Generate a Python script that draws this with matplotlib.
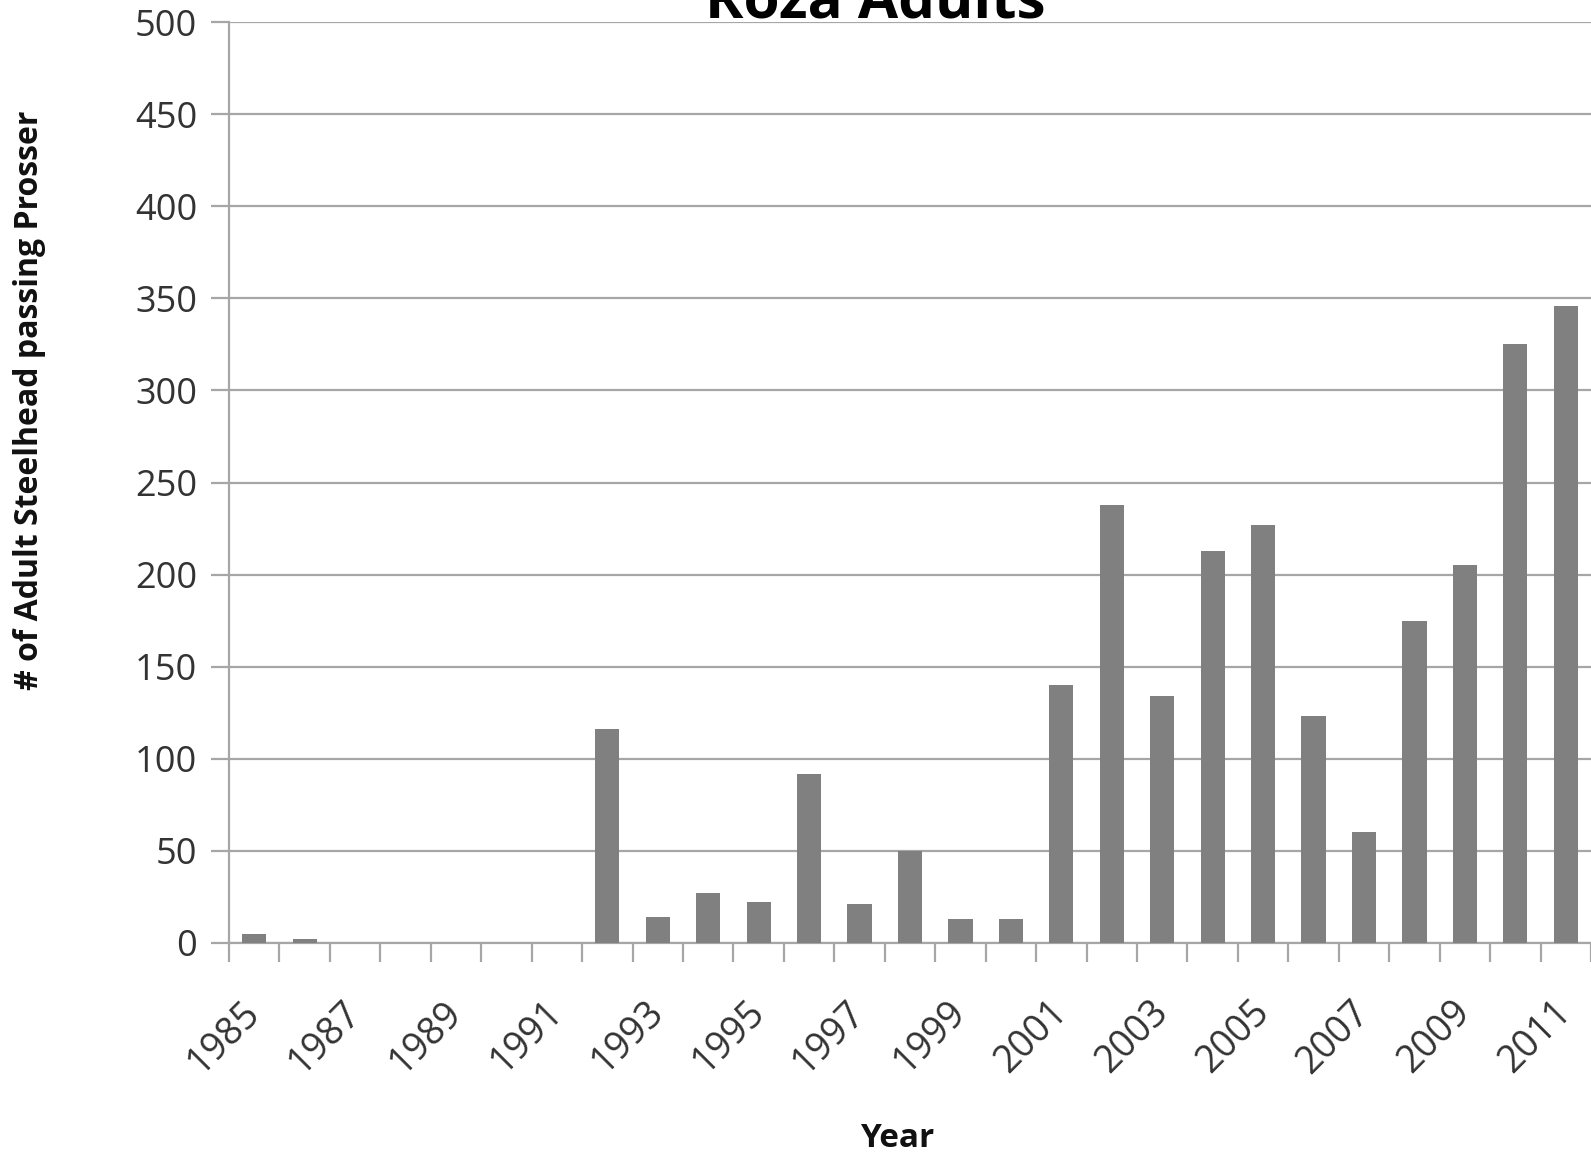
import numpy as np
import matplotlib
matplotlib.use("Agg")
import matplotlib.pyplot as plt
import matplotlib.ticker as tck

plt.rcParams['font.family'] = ['Open Sans', 'DejaVu Sans']

years = list(range(1985, 2012))
adults = [5, 2, 0, 0, 0, 0, 0, 116, 14, 27, 22, 92, 21, 50, 13, 13,
          140, 238, 134, 213, 227, 123, 60, 175, 205, 325, 346]
year_labels = [str(y) if (y - 1985) % 2 == 0 else '' for y in years]

grid_col = '#A6A6A6'
text_col = '#333333'

fig = plt.figure(figsize=(15.91, 11.53), dpi=100)
ax = fig.add_axes([229 / 1591, 1 - 943 / 1153, 1 - 229 / 1591, (943 - 22) / 1153])

x = np.arange(len(years))
ax.bar(x, adults, width=0.48, color='#808080', zorder=3)

ax.set_xlim(-0.5, len(years) - 0.5)
ax.set_ylim(0, 500)
ax.yaxis.set_major_locator(tck.MultipleLocator(50))
ax.grid(axis='y', color=grid_col, linewidth=1.6, zorder=0)

# labels at category centres, tick marks at category boundaries
ax.set_xticks(x)
ax.set_xticklabels(year_labels, rotation=45, ha='right', va='center',
                   rotation_mode='anchor', fontsize=27, color=text_col)
ax.set_xticks(np.arange(len(years) + 1) - 0.5, minor=True)
ax.tick_params(axis='x', which='major', length=0, pad=46)
ax.tick_params(axis='x', which='minor', length=14, width=1.6, color=grid_col)
ax.tick_params(axis='y', length=13, width=1.6, color=grid_col, labelsize=26,
               labelcolor=text_col, pad=10)

for s in ['top', 'right']:
    ax.spines[s].set_visible(False)
for s in ['left', 'bottom']:
    ax.spines[s].set_color(grid_col)
    ax.spines[s].set_linewidth(1.6)

fig.text(30 / 1591, 1 - 400 / 1153, '# of Adult Steelhead passing Prosser',
         fontsize=23, fontweight='bold', rotation=90, ha='center', va='center',
         color='#111111')
fig.text(897 / 1591, 1 - 1147 / 1153, 'Year', fontsize=24, fontweight='bold',
         ha='center', va='baseline', color='#111111')
fig.text(875 / 1591, 1 - 17 / 1153, 'Roza Adults', fontsize=42, fontweight='bold',
         ha='center', va='baseline', color='black')

fig.savefig('out.png', dpi=100)
